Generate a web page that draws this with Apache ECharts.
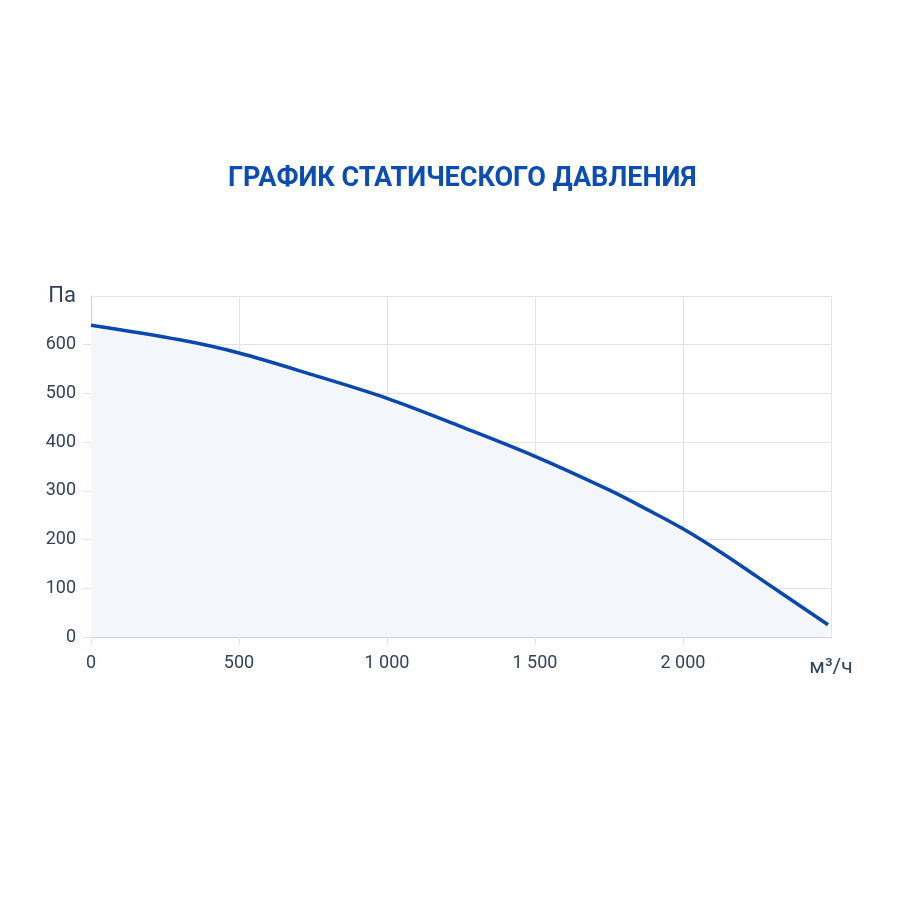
<!DOCTYPE html>
<html>
<head>
    <meta charset="utf-8"/>
    <title>График статического давления</title>
    <script src="https://cdn.jsdelivr.net/npm/echarts@6/dist/echarts.min.js"></script>
    <style>
        html, body { margin: 0; padding: 0; background: #fff; }
        #chart { width: 900px; height: 900px; }
    </style>
</head>
<body>
<div id="chart"></div>
<script type="text/javascript">
    // расход воздуха, м³/ч
    var flow = [0, 300, 500, 750, 1000, 1250, 1500, 1750, 1875, 2000, 2125, 2250, 2490];
    // статическое давление, Па
    var pressure = [640, 610, 583, 538, 490, 432, 371, 302, 263, 222, 175, 124, 25];

    var xTicks = [0, 500, 1000, 1500, 2000, 2500];
    var yTicks = [0, 100, 200, 300, 400, 500, 600, 700];

    var points = flow.map(function (q, i) { return [q, pressure[i]]; });

    // пробел как разделитель тысяч
    function fmt(v) {
        return String(v).replace(/\B(?=(\d{3})+(?!\d))/g, ' ');
    }

    var gridColor = '#dfe3ea';
    var textColor = '#31425c';

    var myChart = echarts.init(document.getElementById('chart'));
    myChart.setOption({
        backgroundColor: '#ffffff',
        title: {
            text: 'ГРАФИК СТАТИЧЕСКОГО ДАВЛЕНИЯ',
            left: 223,
            top: 161,
            textStyle: {
                color: '#0b4db3',
                fontSize: 27,
                fontWeight: 'bold',
                fontFamily: 'Roboto'
            }
        },
        grid: {
            left: 91,
            right: 69,
            top: 296,
            bottom: 263
        },
        xAxis: {
            type: 'value',
            min: xTicks[0],
            max: xTicks[xTicks.length - 1],
            interval: 500,
            name: 'м³/ч',
            nameLocation: 'end',
            nameGap: 0,
            nameTextStyle: {
                color: textColor,
                fontSize: 21,
                fontFamily: 'Roboto',
                align: 'center',
                verticalAlign: 'top',
                padding: [20, 0, 0, 0]
            },
            axisLine: { lineStyle: { color: '#c9ced8' } },
            axisTick: { show: true, length: 8, lineStyle: { color: gridColor } },
            splitLine: { show: true, lineStyle: { color: gridColor } },
            axisLabel: {
                showMaxLabel: false,
                color: textColor,
                fontSize: 18,
                fontFamily: 'Roboto',
                margin: 17,
                formatter: fmt
            }
        },
        yAxis: {
            type: 'value',
            min: yTicks[0],
            max: yTicks[yTicks.length - 1],
            interval: 100,
            name: 'Па',
            nameLocation: 'end',
            nameGap: 0,
            nameTextStyle: {
                color: textColor,
                fontSize: 22,
                fontFamily: 'Roboto',
                align: 'right',
                verticalAlign: 'middle',
                padding: [0, 15, 0, 0]
            },
            axisLine: { show: true, lineStyle: { color: '#c9ced8' } },
            axisTick: { show: true, length: 8, lineStyle: { color: gridColor } },
            splitLine: { show: true, lineStyle: { color: gridColor } },
            axisLabel: {
                showMaxLabel: false,
                color: textColor,
                fontSize: 18,
                fontFamily: 'Roboto',
                margin: 15
            }
        },
        series: [
            {
                type: 'line',
                data: points,
                smooth: 0.35,
                showSymbol: false,
                lineStyle: { color: '#0a48b0', width: 3.5 },
                areaStyle: { color: '#f3f6fb', opacity: 1 },
                silent: true
            }
        ]
    });
</script>
</body>
</html>
